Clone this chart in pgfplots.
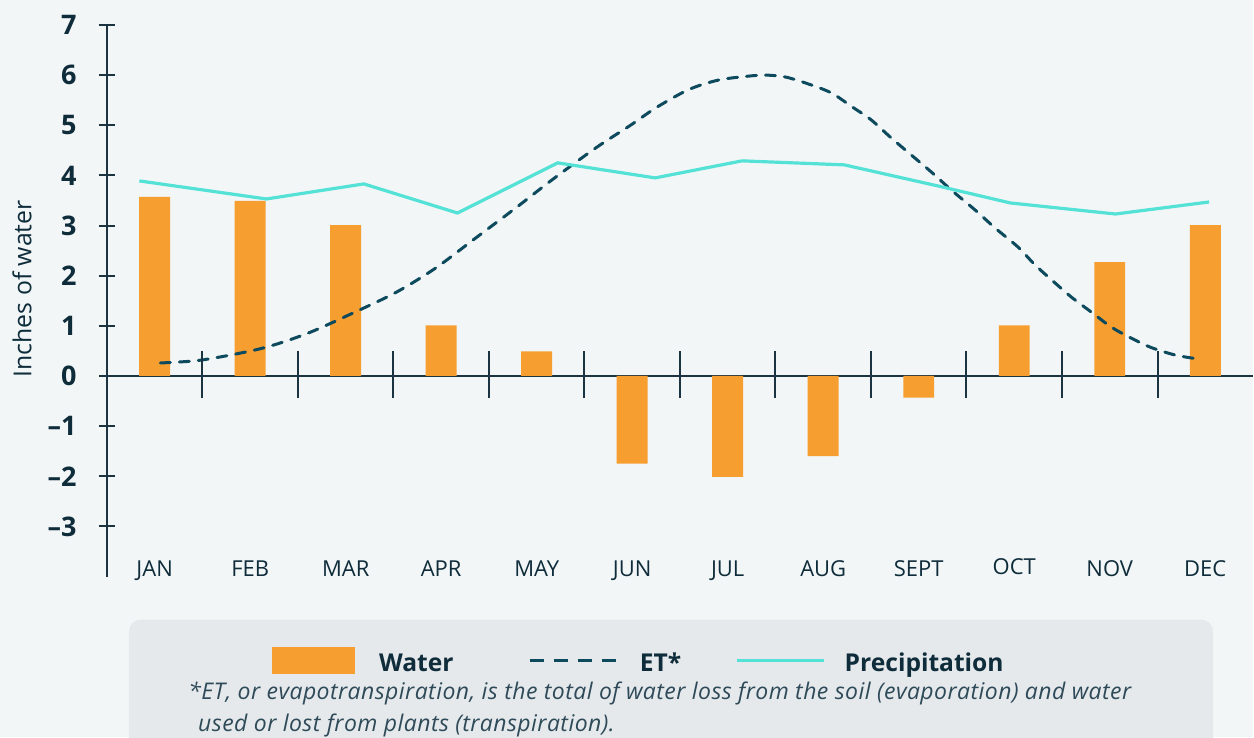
\documentclass[border=0pt]{standalone}
\usepackage{pgfplots}
\pgfplotsset{compat=1.18}
\usepackage{fontspec}
\setmainfont{Open Sans}
\newfontfamily\notefont[LetterSpace=2]{Open Sans}
\definecolor{bgcol}{HTML}{F2F6F7}
\definecolor{boxcol}{HTML}{E5E9EC}
\definecolor{ink}{HTML}{0F2C3B}
\definecolor{axiscol}{HTML}{1C3441}
\definecolor{waterc}{HTML}{F79E30}
\definecolor{etc}{HTML}{0D4A5E}
\definecolor{prc}{HTML}{55E2D6}
\definecolor{notec}{HTML}{2E4A58}
\begin{document}
\begin{tikzpicture}
\begin{scope}[x=0.5pt,y=-0.5pt]
\useasboundingbox (0,0) rectangle (1254,738);
\fill[bgcol] (0,0) rectangle (1254,738);
\fill[boxcol, rounded corners=6pt] (129,620) rectangle (1214,790);
\fill[waterc] (272,648) rectangle (355,675);
\node[anchor=base west, inner sep=0pt, font=\fontsize{12.3}{14}\selectfont\bfseries, text=ink] at (379,672) {Water};
\draw[etc, line width=1.5pt, dash pattern=on 7pt off 5pt] (530,661) -- (618,661);
\node[anchor=base west, inner sep=0pt, font=\fontsize{12.3}{14}\selectfont\bfseries, text=ink] at (640,672) {ET*};
\draw[prc, line width=1.6pt] (738,661) -- (825,661);
\node[anchor=base west, inner sep=0pt, font=\fontsize{12.3}{14}\selectfont\bfseries, text=ink] at (845,672) {Precipitation};
\node[anchor=base west, inner sep=0pt, font=\notefont\fontsize{11.5}{13}\selectfont\itshape, text=notec] at (188,700) {*ET, or evapotranspiration, is the total of water loss from the soil (evaporation) and water};
\node[anchor=base west, inner sep=0pt, font=\notefont\fontsize{11.5}{13}\selectfont\itshape, text=notec] at (198,732) {used or lost from plants (transpiration).};
\node[rotate=90, inner sep=0pt, font=\fontsize{12.4}{14}\selectfont, text=ink] at (22,289) {Inches of water};
\end{scope}
\begin{axis}[
  at={(53.5pt,-288.5pt)}, anchor=south west,
  scale only axis, width=573.5pt, height=276pt,
  xmin=-0.5, xmax=11.5, ymin=-4, ymax=7,
  axis x line*=middle, axis y line*=left,
  axis line style={draw=axiscol, line width=1pt},
  xtick=\empty,
  ytick={-3,-2,-1,0,1,2,3,4,5,6,7},
  yticklabels={\textendash3,\textendash2,\textendash1,0,1,2,3,4,5,6,7},
  yticklabel style={font=\fontsize{13.5}{15}\selectfont\bfseries, text=ink, inner sep=0pt, xshift=-11pt},
  tick align=center, major tick length=8pt,
  tick style={draw=axiscol, line width=1pt},
  clip=false,
]
\addplot[ybar, bar width=15.5pt, fill=waterc, draw=none] coordinates {
(0,3.57) (1,3.49) (2,3.01) (3,1.01) (4,0.49) (5,-1.75) (6,-2.01) (7,-1.6) (8,-0.43) (9,1.01) (10,2.27) (11,3.01)};
\addplot[etc, line width=1.5pt, dash pattern=on 5pt off 4.5pt, smooth, tension=0.5, line cap=round] coordinates {
(0.06,0.26) (0.50,0.32) (1.12,0.55) (1.60,0.85) (2.07,1.25) (2.53,1.67) (2.94,2.15) (3.36,2.75) (3.78,3.35) (4.16,3.91) (4.62,4.55) (4.99,5.01) (5.25,5.35) (5.59,5.71) (5.90,5.90) (6.22,5.98) (6.40,6.00) (6.61,5.96) (6.88,5.80) (7.09,5.64) (7.30,5.37) (7.50,5.11) (7.71,4.75) (7.92,4.41) (8.13,4.07) (8.34,3.71) (8.59,3.31) (8.80,2.95) (9.04,2.57) (9.22,2.21) (9.43,1.85) (9.60,1.57) (9.81,1.27) (10.02,0.97) (10.23,0.75) (10.43,0.57) (10.68,0.42) (10.92,0.34) (10.96,0.34)};
\addplot[prc, line width=1.6pt] coordinates {
(-0.16,3.89) (1.17,3.53) (2.19,3.83) (3.17,3.25) (4.22,4.25) (5.24,3.95) (6.15,4.29) (7.22,4.21) (8.20,3.79) (8.96,3.45) (10.06,3.23) (11.04,3.47)};
\pgfplotsinvokeforeach{0.5,1.5,2.5,3.5,4.5,5.5,6.5,7.5,8.5,9.5,10.5}{
  \draw[axiscol, line width=1pt] (axis cs:#1,-0.44) -- (axis cs:#1,0.5);
}
\node[anchor=base, inner sep=0pt, font=\fontsize{11}{13}\selectfont, text=ink] at (axis cs:0,-4) {JAN};
\node[anchor=base, inner sep=0pt, font=\fontsize{11}{13}\selectfont, text=ink] at (axis cs:1,-4) {FEB};
\node[anchor=base, inner sep=0pt, font=\fontsize{11}{13}\selectfont, text=ink] at (axis cs:2,-4) {MAR};
\node[anchor=base, inner sep=0pt, font=\fontsize{11}{13}\selectfont, text=ink] at (axis cs:3,-4) {APR};
\node[anchor=base, inner sep=0pt, font=\fontsize{11}{13}\selectfont, text=ink] at (axis cs:4,-4) {MAY};
\node[anchor=base, inner sep=0pt, font=\fontsize{11}{13}\selectfont, text=ink] at (axis cs:5,-4) {JUN};
\node[anchor=base, inner sep=0pt, font=\fontsize{11}{13}\selectfont, text=ink] at (axis cs:6,-4) {JUL};
\node[anchor=base, inner sep=0pt, font=\fontsize{11}{13}\selectfont, text=ink] at (axis cs:7,-4) {AUG};
\node[anchor=base, inner sep=0pt, font=\fontsize{11}{13}\selectfont, text=ink] at (axis cs:8,-4) {SEPT};
\node[anchor=base, inner sep=0pt, font=\fontsize{11}{13}\selectfont, text=ink] at (axis cs:9,-3.96) {OCT};
\node[anchor=base, inner sep=0pt, font=\fontsize{11}{13}\selectfont, text=ink] at (axis cs:10,-4) {NOV};
\node[anchor=base, inner sep=0pt, font=\fontsize{11}{13}\selectfont, text=ink] at (axis cs:11,-4) {DEC};
\end{axis}
\end{tikzpicture}
\end{document}
